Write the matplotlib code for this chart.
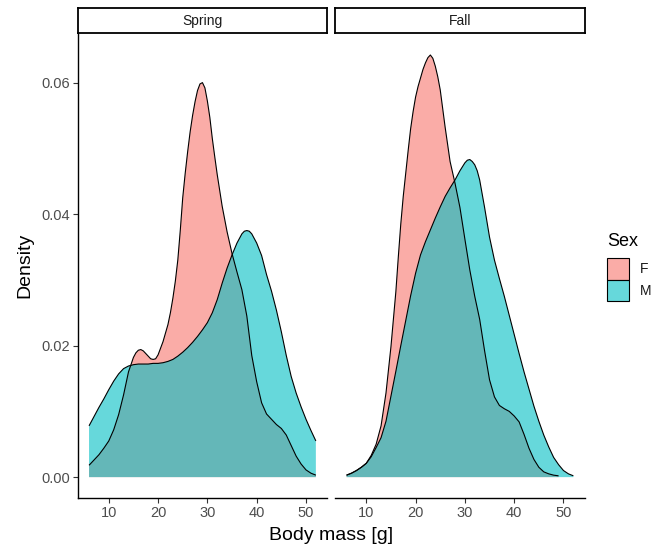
import matplotlib
matplotlib.use("Agg")
import matplotlib.pyplot as plt
from matplotlib.patches import Rectangle
from matplotlib.colors import to_rgba

plt.rcParams['font.family'] = ['Liberation Sans', 'DejaVu Sans']

# ---- data (density estimates) ----
seasons = ["Spring", "Fall"]
sexes = ["F", "M"]
colors = {"F": "#F8766D", "M": "#00BFC4"}

spring_x_F = [6, 7, 8, 9, 10, 11, 12, 13, 14, 15,
              15.5, 16, 16.5, 17, 17.5, 18, 18.5, 19, 19.5,
              20, 21, 22,
              22.5, 23, 23.5, 24, 24.5, 25, 25.5, 26, 26.5, 27, 27.5, 28, 28.5, 29, 29.5, 30,
              30.5, 31, 31.5, 32,
              33, 34, 35, 36, 37, 38, 39, 40, 41, 42, 43, 44, 45, 46, 47, 48, 49, 50, 51, 52]
spring_F = [0.0018, 0.0026, 0.0034, 0.0044, 0.0055, 0.0072, 0.0095, 0.0125, 0.0160, 0.0182,
            0.0189, 0.0193, 0.0194, 0.0192, 0.0188, 0.0184, 0.0180, 0.0179, 0.0180,
            0.0186, 0.0206, 0.0232,
            0.0250, 0.0272, 0.0298, 0.0330, 0.0375, 0.0425, 0.0462, 0.0495, 0.0525, 0.0550,
            0.0571, 0.0588, 0.0598, 0.0600, 0.0592, 0.0572, 0.0547, 0.0515, 0.0487, 0.0460,
            0.0412, 0.0373, 0.0340, 0.0312, 0.0285, 0.0245, 0.0185, 0.0145, 0.0113, 0.0096,
            0.0088, 0.0080, 0.0074, 0.0064, 0.0048, 0.0032, 0.0020, 0.0011, 0.0006, 0.0003]

spring_x_M = [6, 7, 8, 9, 10, 11, 12, 13, 14, 15, 16, 17, 18, 19, 20, 21, 22, 23, 24, 25,
              26, 27, 28, 29, 30, 31, 32, 33, 34, 35, 36, 37, 37.5, 38, 38.5, 39,
              40, 41, 42, 43, 44, 45, 46, 47, 48, 49, 50, 51, 52]
spring_M = [0.0078, 0.0092, 0.0106, 0.0119, 0.0133, 0.0146, 0.0157, 0.0165, 0.0169, 0.0171,
            0.0172, 0.0172, 0.0172, 0.0173, 0.0173, 0.0174, 0.0176, 0.0179, 0.0184, 0.0190,
            0.0197, 0.0205, 0.0214, 0.0224, 0.0235, 0.0250, 0.0270, 0.0295, 0.0318, 0.0338,
            0.0356, 0.0370, 0.0374, 0.0375, 0.0374, 0.0370,
            0.0356, 0.0337, 0.0308, 0.0283, 0.0254, 0.0221, 0.0185, 0.0153, 0.0128, 0.0107,
            0.0088, 0.0071, 0.0055]

fall_x_F = [6, 7, 8, 9, 10, 11, 12, 13, 14, 15, 16,
            16.5, 17, 17.5, 18, 18.5, 19, 19.5, 20, 20.5, 21, 21.5, 22, 22.5, 23, 23.5, 24,
            24.5, 25,
            26, 27, 28, 29, 30, 31, 32, 33, 34, 35, 36, 37, 38, 39, 40, 41, 42, 43, 44, 45,
            46, 47, 48, 49]
fall_F = [0.0003, 0.0006, 0.0010, 0.0015, 0.0021, 0.0033, 0.0050, 0.0078, 0.0128, 0.0198,
          0.0282,
          0.0335, 0.0385, 0.0427, 0.0462, 0.0497, 0.0530, 0.0556, 0.0578, 0.0594, 0.0607,
          0.0620, 0.0630, 0.0638, 0.0642, 0.0637, 0.0625, 0.0609, 0.0589,
          0.0532, 0.0480, 0.0447, 0.0410, 0.0362, 0.0315, 0.0275, 0.0240, 0.0192, 0.0148,
          0.0122, 0.0109, 0.0104, 0.0100, 0.0093, 0.0084, 0.0065, 0.0044, 0.0027, 0.0015,
          0.0008, 0.0005, 0.0003, 0.0002]

fall_x_M = [6, 7, 8, 9, 10, 11, 12, 13, 14, 15, 16, 17, 18, 19, 20, 21, 22, 23, 24, 25,
            26, 27, 28, 29,
            29.5, 30, 30.5, 31, 31.5, 32, 32.5, 33,
            34, 35, 36, 37, 38, 39, 40, 41, 42, 43, 44, 45, 46, 47, 48, 49, 50, 51, 52]
fall_M = [0.0003, 0.0006, 0.0010, 0.0015, 0.0021, 0.0031, 0.0045, 0.0060, 0.0085, 0.0123,
          0.0161, 0.0200, 0.0238, 0.0276, 0.0310, 0.0338, 0.0358, 0.0376, 0.0394, 0.0411,
          0.0427, 0.0440, 0.0452, 0.0466,
          0.0472, 0.0478, 0.0482, 0.0483, 0.0480, 0.0475, 0.0466, 0.0452,
          0.0410, 0.0365, 0.0330, 0.0302, 0.0275, 0.0246, 0.0217, 0.0188, 0.0160, 0.0134,
          0.0108, 0.0085, 0.0064, 0.0046, 0.0030, 0.0019, 0.0010, 0.0005, 0.0002]

curves = {
    "Spring": {"F": (spring_x_F, spring_F), "M": (spring_x_M, spring_M)},
    "Fall": {"F": (fall_x_F, fall_F), "M": (fall_x_M, fall_M)},
}

x_ticks = [10, 20, 30, 40, 50]
y_ticks = [0.00, 0.02, 0.04, 0.06]
y_ticklabels = ["0.00", "0.02", "0.04", "0.06"]
ALPHA = 0.6

W, H = 659, 547
fig = plt.figure(figsize=(W / 100, H / 100), dpi=100)


def fx(px):
    return px / W


def fy(py):
    return 1 - py / H


panel_top, panel_bot = 33.3, 498.3
panels = [(77.7, 327.2), (335.2, 584.7)]
xlim = (3.7, 54.3)
ylim = (-0.00322, 0.0675)

for i, (season, (l, r)) in enumerate(zip(seasons, panels)):
    ax = fig.add_axes([fx(l), fy(panel_bot), (r - l) / W, (panel_bot - panel_top) / H])
    for sex in sexes:
        xs, ys = curves[season][sex]
        ax.fill_between(xs, 0, ys, facecolor=colors[sex], alpha=ALPHA, linewidth=0)
        ax.plot(xs, ys, color="black", linewidth=0.8, solid_capstyle="butt",
                solid_joinstyle="round")
    ax.set_xlim(*xlim)
    ax.set_ylim(*ylim)
    for s in ["top", "right"]:
        ax.spines[s].set_visible(False)
    ax.spines["bottom"].set_linewidth(1.0)
    ax.spines["bottom"].set_color("black")
    ax.set_xticks(x_ticks)
    ax.set_xticklabels([str(t) for t in x_ticks])
    ax.tick_params(axis="x", length=3.5, width=0.8, color="#333333", labelsize=10.5,
                   labelcolor="#4D4D4D", pad=2)
    if i == 0:
        ax.spines["left"].set_linewidth(1.0)
        ax.spines["left"].set_color("black")
        ax.set_yticks(y_ticks)
        ax.set_yticklabels(y_ticklabels)
        ax.tick_params(axis="y", length=3.5, width=0.8, color="#333333", labelsize=10.5,
                       labelcolor="#4D4D4D", pad=2)
    else:
        ax.spines["left"].set_visible(False)
        ax.set_yticks([])
    # strip
    sax = fig.add_axes([fx(l), fy(panel_top), (r - l) / W, 25 / H])
    sax.set_xticks([])
    sax.set_yticks([])
    for s in sax.spines.values():
        s.set_linewidth(1.3)
        s.set_color("black")
    sax.text(0.5, 0.5, season, ha="center", va="center", fontsize=10, color="#1A1A1A",
             transform=sax.transAxes)

# axis titles
fig.text(fx(331.2), fy(536), "Body mass [g]", ha="center", va="center", fontsize=14)
fig.text(fx(25), fy(265.8), "Density", ha="center", va="center", rotation=90, fontsize=14)

# legend
fig.text(fx(607), fy(241.7), "Sex", ha="left", va="center", fontsize=13)
key_w, key_h = 22, 21.5
for j, sex in enumerate(sexes):
    top = 258.3 + j * key_h
    fig.add_artist(Rectangle((fx(607), fy(top + key_h)), key_w / W, key_h / H,
                             transform=fig.transFigure, facecolor=to_rgba(colors[sex], ALPHA),
                             edgecolor="black", linewidth=0.8))
    fig.text(fx(639.5), fy(top + key_h / 2), sex, ha="left", va="center", fontsize=10,
             color="#1A1A1A")

fig.savefig("out.png", dpi=100)
